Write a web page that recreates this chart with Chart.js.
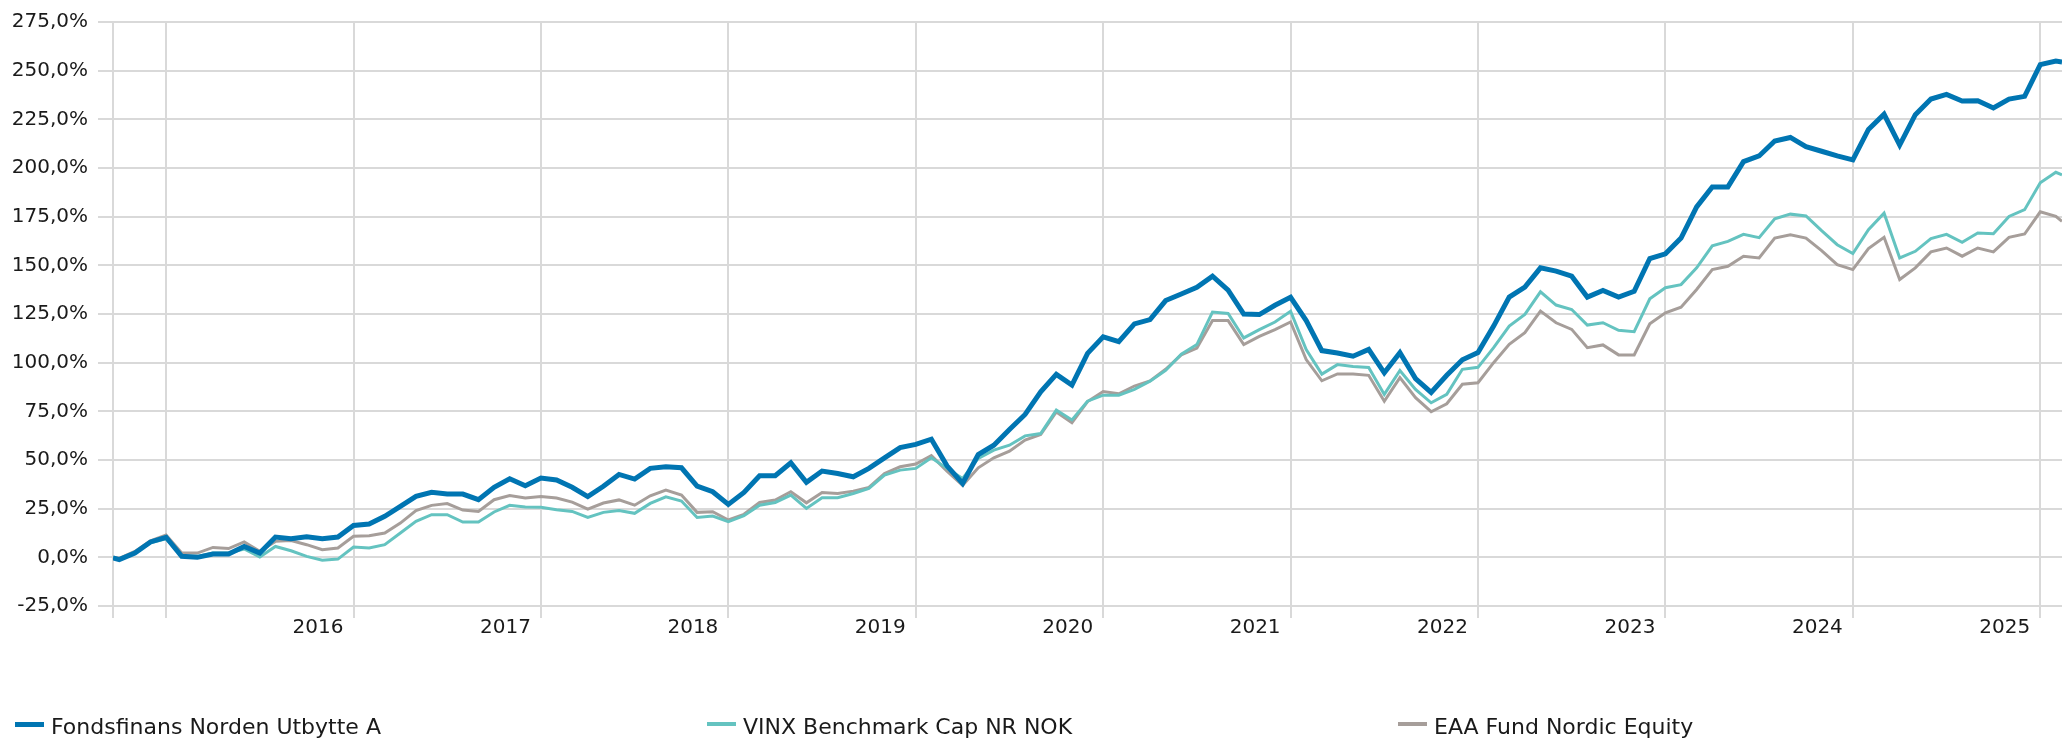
<!DOCTYPE html>
<html>
<head>
<meta charset="utf-8">
<title>Fondsfinans Norden Utbytte A</title>
<script src="https://cdn.jsdelivr.net/npm/chart.js@4.4.1/dist/chart.umd.min.js"></script>
<style>
  html, body { margin: 0; padding: 0; background: #fff; }
  #wrap { position: relative; width: 2062px; height: 739px; overflow: hidden; }
  #chartBox { position: absolute; left: 0; top: 0; width: 2062px; height: 739px; }
  .item { position: absolute; top: 716px; height: 22px; padding-left: 36px;
          font: 22px/22px 'DejaVu Sans', sans-serif; color: #1a1a1a; white-space: nowrap; }
  .item i { position: absolute; left: 0; width: 29px; }
</style>
</head>
<body>
<div id="wrap">
  <div id="chartBox"><canvas id="perfChart"></canvas></div>
  <div id="legend"></div>
</div>
<script>
// series names, in legend order
const seriesNames = ['Fondsfinans Norden Utbytte A', 'VINX Benchmark Cap NR NOK', 'EAA Fund Nordic Equity'];

// first and last day of the period, month-end points in between
const startDate = '2015-09-18';
const endDate = '2026-02-11';
const firstMonthEnd = [2015, 9];
const lastMonthEnd = [2026, 1];

// cumulative return in %, one value per date (start, month ends, end)
const fundValues = [
  -0.3,
  -1.2, 2.2, 7.9, 10.3,                                                   // 2015 sep-dec
  0.5, 0.0, 1.7, 1.7, 5.6, 2.2, 10.4, 9.6, 10.6, 9.6, 10.4, 16.4,         // 2016
  17.1, 21.1, 26.2, 31.3, 33.4, 32.5, 32.5, 29.6, 36.0, 40.4, 36.8, 40.7, // 2017
  39.7, 36.0, 31.2, 36.5, 42.6, 40.2, 45.7, 46.5, 46.0, 36.6, 33.7, 27.2, // 2018
  33.3, 41.9, 41.9, 48.6, 38.5, 44.3, 43.1, 41.4, 45.7, 51.1, 56.4, 58.0, // 2019
  60.7, 47.0, 38.0, 52.8, 57.6, 65.7, 73.4, 85.0, 94.0, 88.5, 104.8, 113.3,
  110.8, 119.9, 122.1, 131.9, 135.3, 138.7, 144.4, 137.3, 125.0, 124.7, 129.5, 133.6,
  121.6, 106.2, 105.0, 103.3, 106.8, 94.8, 105.1, 91.8, 84.7, 93.5, 101.5, 105.2,
  118.8, 133.7, 138.8, 148.7, 147.0, 144.4, 133.7, 137.1, 133.7, 136.7, 153.5, 155.9,
  164.0, 180.0, 190.3, 190.3, 203.3, 206.2, 213.9, 215.7, 211.0, 208.6, 206.2, 204.2,
  219.8, 227.6, 211.8, 227.4, 235.4, 237.8, 234.4, 234.5, 230.8, 235.4, 236.8, 253.1,
  254.9,
  254.5
];
const vinxValues = [
  0.0,
  -0.8, 2.5, 7.5, 9.5,
  0.5, 0.5, 2.2, 2.2, 4.3, 0.2, 5.6, 3.4, 0.5, -1.5, -0.9, 5.3,
  4.8, 6.5, 12.5, 18.5, 21.9, 21.9, 18.1, 18.1, 23.3, 26.7, 25.9, 25.7,
  24.5, 23.6, 20.5, 23.1, 24.1, 22.6, 27.7, 31.1, 28.9, 20.5, 21.2, 18.3,
  21.4, 26.8, 28.2, 32.0, 25.1, 30.6, 30.6, 32.8, 35.4, 42.2, 44.8, 45.7,
  51.1, 45.7, 40.5, 50.8, 55.1, 57.6, 62.4, 63.6, 75.6, 70.6, 80.2, 83.3,
  83.3, 86.3, 90.5, 96.0, 104.3, 109.3, 126.0, 125.3, 112.7, 117.0, 120.9, 126.4,
  106.7, 94.1, 99.0, 98.0, 97.5, 83.7, 96.0, 86.3, 79.4, 83.7, 96.6, 97.6,
  107.7, 118.8, 124.8, 136.4, 129.6, 127.3, 119.3, 120.5, 116.6, 115.9, 132.8, 138.5,
  140.1, 148.7, 160.0, 162.3, 165.9, 164.2, 173.9, 176.3, 175.4, 167.8, 160.6, 156.1,
  168.3, 176.8, 153.8, 157.2, 163.7, 165.9, 161.8, 166.6, 166.2, 175.1, 178.6, 192.4,
  197.8,
  196.5
];
const eaaValues = [
  0.0,
  -0.5, 3.0, 8.5, 11.5,
  2.2, 2.2, 5.1, 4.5, 7.9, 3.1, 8.2, 8.6, 6.5, 3.9, 4.8, 10.8,
  11.1, 12.5, 17.6, 24.0, 26.7, 27.6, 24.3, 23.6, 29.6, 31.8, 30.5, 31.3,
  30.5, 28.4, 24.8, 27.9, 29.5, 26.8, 31.6, 34.5, 32.0, 23.1, 23.4, 19.2,
  22.1, 28.2, 29.4, 33.7, 28.0, 33.3, 32.8, 34.0, 35.9, 43.1, 46.5, 47.9,
  52.2, 44.3, 37.0, 46.0, 51.1, 54.5, 60.2, 63.1, 74.7, 69.2, 80.0, 85.2,
  84.0, 88.0, 90.6, 96.6, 104.0, 107.5, 121.6, 121.6, 109.3, 113.5, 117.0, 120.9,
  101.6, 90.7, 94.2, 94.2, 93.5, 80.2, 92.3, 82.0, 74.8, 78.9, 88.9, 89.7,
  100.0, 109.4, 115.4, 126.5, 120.5, 117.1, 107.7, 109.1, 104.0, 104.0, 120.0, 125.6,
  128.5, 137.6, 147.8, 149.5, 154.7, 153.8, 164.0, 165.7, 164.0, 157.6, 150.4, 147.8,
  158.6, 164.4, 142.7, 148.7, 156.9, 158.9, 154.7, 158.9, 156.9, 164.4, 166.1, 177.5,
  175.2,
  172.6
];

// vertical gridlines sit on 1 january; the year label is written just left of its line
const gridYears = [2016, 2017, 2018, 2019, 2020, 2021, 2022, 2023, 2024, 2025, 2026];
const yearLabels = ['', '2016', '2017', '2018', '2019', '2020', '2021', '2022', '2023', '2024', '2025'];

// y axis
const yMin = -25, yMax = 275, yStep = 25;

function pad(n) { return n < 10 ? '0' + n : '' + n; }

function buildDates() {
    const dates = [startDate];
    let y = firstMonthEnd[0], m = firstMonthEnd[1];
    while (y < lastMonthEnd[0] || (y === lastMonthEnd[0] && m <= lastMonthEnd[1])) {
        const last = new Date(y, m, 0).getDate();
        dates.push(y + '-' + pad(m) + '-' + pad(last));
        m++;
        if (m > 12) { m = 1; y++; }
    }
    dates.push(endDate);
    return dates;
}

// months since 1 jan 2016
function monthPos(s) {
    const [y, m, d] = s.split('-').map(Number);
    const dim = new Date(y, m, 0).getDate();
    return (y - 2016) * 12 + (m - 1) + d / dim;
}

const dates = buildDates();
const xs = dates.map(monthPos);
const toPoints = vals => vals.map((v, i) => ({ x: xs[i], y: v }));

const colors = ['#0075b2', '#64c3c0', '#a69e9a'];
const widths = [5, 3, 3];
const gridColor = '#d9d9d9';

Chart.defaults.font.family = "'DejaVu Sans', sans-serif";
Chart.defaults.color = '#1a1a1a';

const ctx = document.getElementById('perfChart').getContext('2d');
new Chart(ctx, {
    type: 'line',
    data: {
        datasets: [fundValues, vinxValues, eaaValues].map((vals, i) => ({
            label: seriesNames[i],
            data: toPoints(vals),
            borderColor: colors[i],
            backgroundColor: colors[i],
            borderWidth: widths[i],
            pointRadius: 0,
            tension: 0,
            fill: false
        }))
    },
    options: {
        responsive: true,
        maintainAspectRatio: false,
        devicePixelRatio: 1,
        animation: false,
        layout: { padding: { top: 20, left: 0, right: 0, bottom: 0 } },
        plugins: {
            legend: { display: false },
            tooltip: { enabled: false }
        },
        scales: {
            x: {
                type: 'linear',
                min: xs[0],
                max: xs[xs.length - 1],
                afterBuildTicks: axis => {
                    axis.ticks = [{ value: xs[0] }].concat(gridYears.map(y => ({ value: (y - 2016) * 12 })));
                },
                afterFit: axis => { axis.height = 739 - 606; },
                grid: { color: gridColor, lineWidth: 2, tickLength: 12, tickColor: gridColor },
                border: { display: false },
                ticks: {
                    autoSkip: false,
                    maxRotation: 0,
                    align: 'end',
                    labelOffset: -10,
                    padding: 0,
                    font: { size: 20, lineHeight: 1 },
                    callback: (value, index) => index === 0 ? '' : yearLabels[index - 1]
                }
            },
            y: {
                min: yMin,
                max: yMax,
                afterFit: axis => { axis.width = 113; },
                grid: { color: gridColor, lineWidth: 2, tickLength: 15, tickColor: gridColor },
                border: { display: true, color: gridColor, width: 2 },
                ticks: {
                    stepSize: yStep,
                    autoSkip: false,
                    padding: 10,
                    font: { size: 20 },
                    callback: v => v.toFixed(1).replace('.', ',') + '%'
                }
            }
        }
    }
});

// legend in three columns under the plot
const legendLeft = [15, 707, 1398];
const legendBox = document.getElementById('legend');
seriesNames.forEach((name, i) => {
    const item = document.createElement('div');
    item.className = 'item';
    item.style.left = legendLeft[i] + 'px';
    const h = i === 0 ? 5 : 4;
    item.innerHTML = '<i style="background:' + colors[i] + ';height:' + h + 'px;top:' + (8 - h / 2) + 'px"></i>' + name;
    legendBox.appendChild(item);
});
</script>
</body>
</html>
